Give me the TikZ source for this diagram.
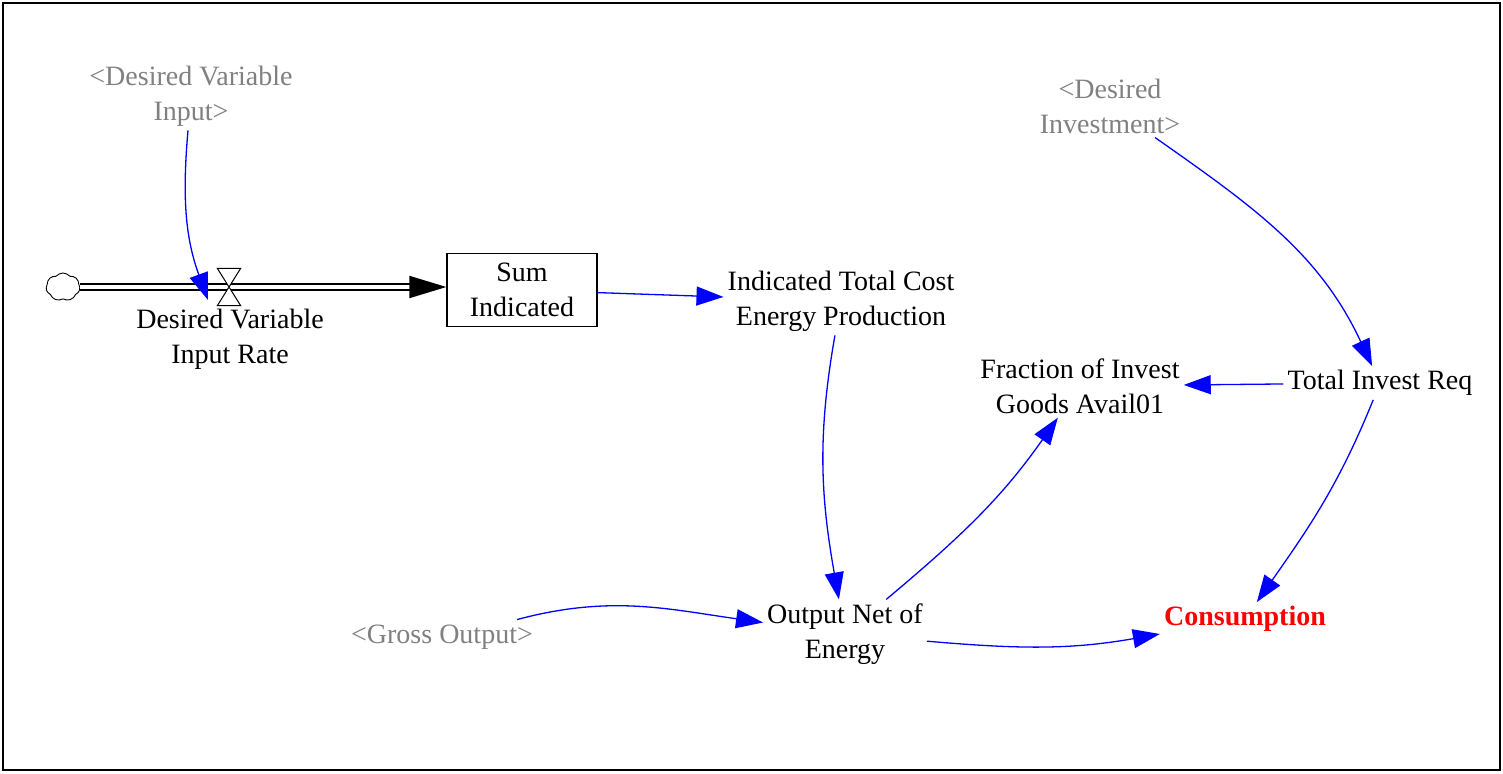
\documentclass[tikz,border=0pt]{standalone}
\usepackage{fontspec}
\setmainfont{Liberation Serif}
\usetikzlibrary{arrows.meta,shapes.symbols}
\definecolor{ghostgray}{RGB}{128,128,128}
\begin{document}
\begin{tikzpicture}[x=1pt,y=-1pt,
    every node/.style={font=\fontsize{28}{35}\selectfont, align=center, inner sep=4pt},
    var/.style={text=black},
    ghost/.style={text=ghostgray},
    stockbox/.style={draw, line width=1.3pt, minimum width=150pt, minimum height=73pt},
    link/.style={blue, line width=1.3pt, -{Triangle[length=27pt,width=19pt]}},
    pipe/.style={double, line width=2pt, double distance=4pt, -{Triangle[length=37pt,width=22pt]}}]
    \useasboundingbox (0,0) rectangle (1503,773);
    \draw[line width=2pt] (3,3) rectangle (1500,770);
    \node[ghost] (gin) at (191,96) {<Desired Variable\\Input>};
    \node[draw, cloud, cloud puffs=7, cloud puff arc=100, minimum width=34pt, minimum height=28pt,
        inner sep=0pt, line width=0.9pt] (cloud) at (63,287) {};
    \node[stockbox] (stock) at (522,290) {Sum\\Indicated};
    \draw[pipe] (cloud.east) -- (stock.west |- cloud.east);
    \node[minimum width=23pt, minimum height=37pt, inner sep=0pt] (valve) at (229,287) {};
    \draw[fill=white, line width=1pt] (valve.north west) -- (valve.north east) -- (valve.south west)
        -- (valve.south east) -- cycle;
    \node[var] (rate) at (230,339) {Desired Variable\\Input Rate};
    \node[var] (itc) at (841,301) {Indicated Total Cost\\Energy Production};
    \node[ghost] (dinv) at (1110,106) {<Desired\\Investment>};
    \node[var] (tir) at (1380,383) {Total Invest Req};
    \node[var] (frac) at (1080,386) {Fraction of Invest\\Goods Avail01};
    \node[var] (one) at (845,634) {Output Net of\\Energy};
    \node[ghost] (gout) at (442,637) {<Gross Output>};
    \node[text=red, font=\fontsize{28}{35}\selectfont\bfseries] (cons) at (1245,619) {Consumption};
    \draw[link] (gin) to[out=-95,in=110] ([xshift=-21pt,yshift=-13pt]valve.center);
    \draw[link] (stock) -- (itc);
    \draw[link] (itc) to[out=-100,in=100] (one);
    \draw[link] ([xshift=-20pt,yshift=1pt]gout.north east) to[out=15,in=172] (one);
    \draw[link] (one) to[out=40,in=-125] (frac);
    \draw[link] (one) to[out=-5,in=190] (cons);
    \draw[link] (dinv) to[out=-35,in=115] (tir);
    \draw[link] (tir) -- (frac);
    \draw[link] (tir) to[out=-112,in=55] (cons);
\end{tikzpicture}
\end{document}
